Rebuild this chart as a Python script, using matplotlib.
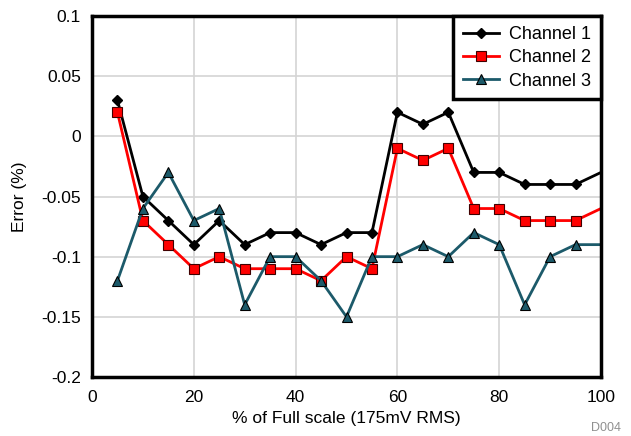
import matplotlib
matplotlib.use("Agg")
import matplotlib.pyplot as plt

plt.rcParams['font.family'] = ['Liberation Sans', 'DejaVu Sans']

x = [5, 10, 15, 20, 25, 30, 35, 40, 45, 50, 55, 60, 65, 70, 75, 80, 85, 90, 95, 100]
ch1 = [0.03, -0.05, -0.07, -0.09, -0.07, -0.09, -0.08, -0.08, -0.09, -0.08, -0.08,
       0.02, 0.01, 0.02, -0.03, -0.03, -0.04, -0.04, -0.04, -0.03]
ch2 = [0.02, -0.07, -0.09, -0.11, -0.10, -0.11, -0.11, -0.11, -0.12, -0.10, -0.11,
       -0.01, -0.02, -0.01, -0.06, -0.06, -0.07, -0.07, -0.07, -0.06]
ch3 = [-0.12, -0.06, -0.03, -0.07, -0.06, -0.14, -0.10, -0.10, -0.12, -0.15, -0.10,
       -0.10, -0.09, -0.10, -0.08, -0.09, -0.14, -0.10, -0.09, -0.09]
xticks = [0, 20, 40, 60, 80, 100]
yticks = [-0.2, -0.15, -0.1, -0.05, 0, 0.05, 0.1]
ytick_labels = ['-0.2', '-0.15', '-0.1', '-0.05', '0', '0.05', '0.1']

fig = plt.figure(figsize=(6.31, 4.36), dpi=100)
ax = fig.add_axes([92/631, 1 - 377/436, (601 - 92)/631, (377 - 16)/436])

marks = list(range(len(x) - 1))
ax.plot(x, ch1, color='black', lw=2, marker='D', ms=5, mfc='black', mec='black',
        markevery=marks, label='Channel 1')
ax.plot(x, ch2, color='#ff0000', lw=2, marker='s', ms=7.5, mfc='#ff0000', mec='#400000', mew=0.8,
        markevery=marks, label='Channel 2')
ax.plot(x, ch3, color='#1c5a6a', lw=2, marker='^', ms=7.5, mfc='#1c5a6a', mec='black', mew=0.8,
        markevery=marks, label='Channel 3')

ax.set_xlim(0, 100)
ax.set_ylim(-0.2, 0.1)
ax.set_xticks(xticks)
ax.set_yticks(yticks)
ax.set_yticklabels(ytick_labels)
ax.tick_params(length=0, labelsize=12.5)
ax.tick_params(axis='x', pad=9)
ax.tick_params(axis='y', pad=8)
ax.grid(True, color='#d4d4d4', lw=1.2)
ax.set_axisbelow(True)
for s in ax.spines.values():
    s.set_linewidth(2.5)
    s.set_color('black')

ax.set_xlabel('% of Full scale (175mV RMS)', fontsize=12.5, labelpad=5)
ax.set_ylabel('Error (%)', fontsize=12.5, labelpad=10)

leg = ax.legend(loc='upper right', fontsize=13, fancybox=False, framealpha=1,
                edgecolor='black', borderaxespad=0, handlelength=2.0,
                labelspacing=0.35, borderpad=0.55, handletextpad=0.55)
leg.get_frame().set_linewidth(2.5)

fig.text(621/631, 1 - 428/436, 'D004', color='#909090', fontsize=9, ha='right', va='center')

fig.savefig('out.png', dpi=100)
